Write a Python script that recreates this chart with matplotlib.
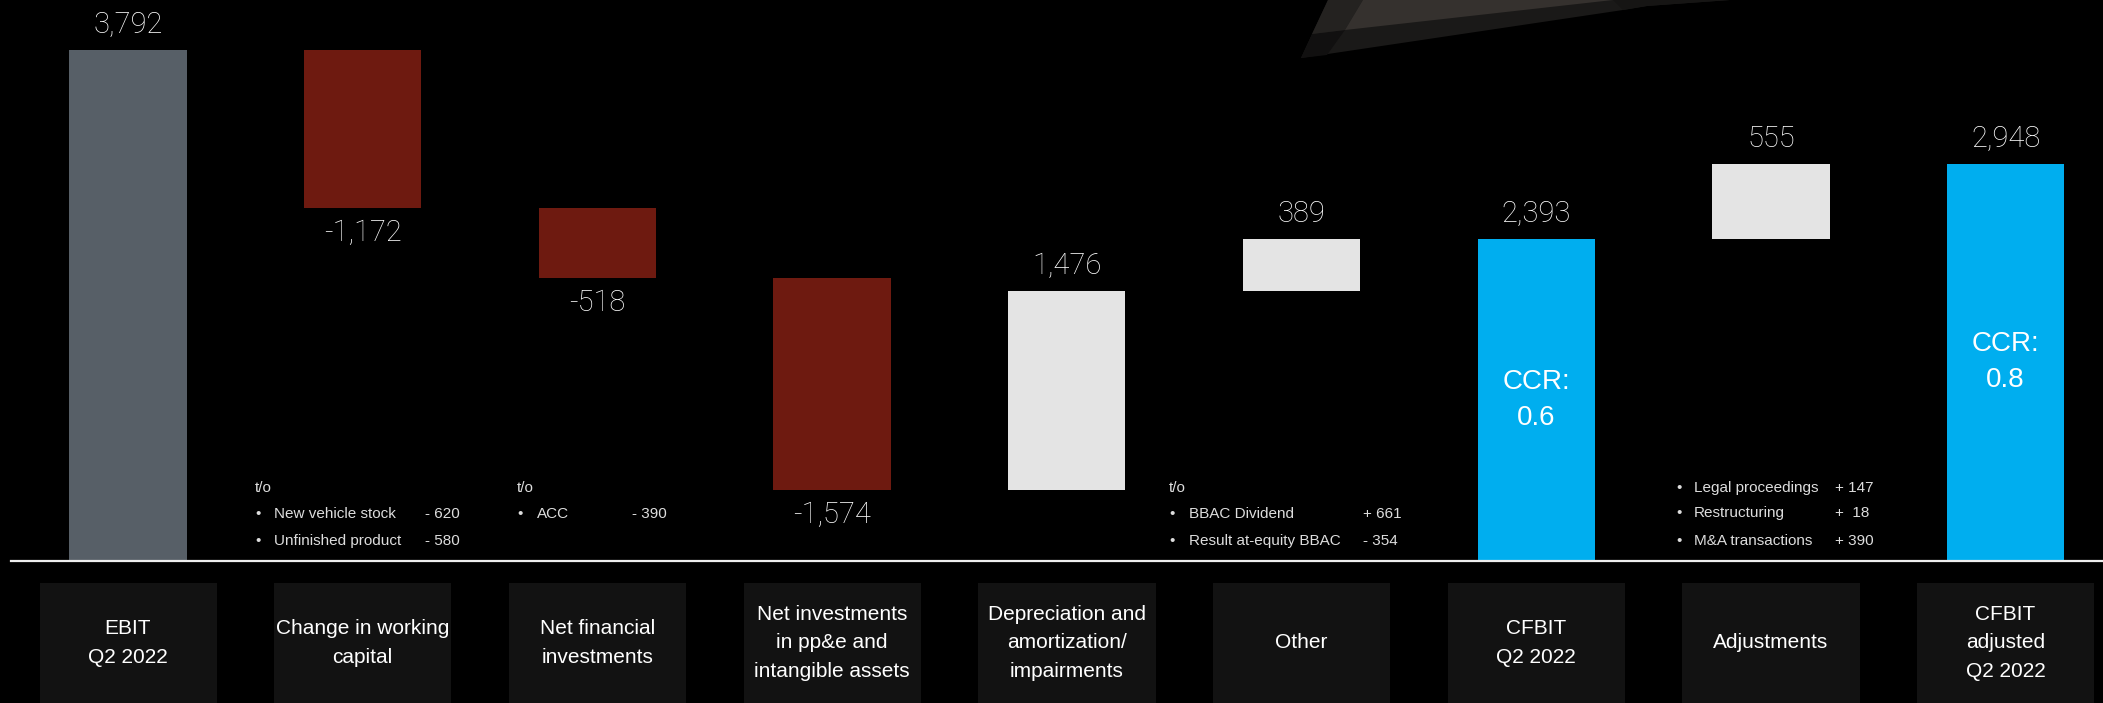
import numpy as np
import matplotlib.pyplot as plt
from matplotlib.patches import Rectangle, Polygon

plt.rcParams['font.family'] = ['Liberation Sans', 'DejaVu Sans']

# ---- data ----
categories = ['EBIT\nQ2 2022', 'Change in working\ncapital', 'Net financial\ninvestments',
              'Net investments\nin pp&e and\nintangible assets',
              'Depreciation and\namortization/\nimpairments', 'Other',
              'CFBIT\nQ2 2022', 'Adjustments', 'CFBIT\nadjusted\nQ2 2022']
values = [3792, -1172, -518, -1574, 1476, 389, 2393, 555, 2948]
is_total = [True, False, False, False, False, False, True, False, True]
ccr_text = {6: 'CCR:\n0.6', 8: 'CCR:\n0.8'}

wc_items = ['New vehicle stock', 'Unfinished product']
wc_vals = ['- 620', '- 580']
fin_items = ['ACC']
fin_vals = ['- 390']
other_items = ['BBAC Dividend', 'Result at-equity BBAC']
other_vals = ['+ 661', '- 354']
adj_items = ['Legal proceedings', 'Restructuring', 'M&A transactions']
adj_vals = ['+ 147', '+  18', '+ 390']

c_ebit = '#575f67'
c_neg = '#6e1a10'
c_pos = '#e4e4e4'
c_total = '#00aeef'

# ---- figure / scale ----
W, H = 2103, 703
fig = plt.figure(figsize=(W / 100, H / 100), dpi=100, facecolor='black')
ax = fig.add_axes([0, 0, 1, 1])
ax.set_facecolor('black')
ax.axis('off')

step = 234.7          # px between bar centres
x0 = 128              # px of first bar centre
base = 561            # px of zero line (from top)
u = 3792 / 511        # value units per px

ax.set_xlim(-x0 / step, (W - x0) / step)
ax.set_ylim(-(H - base) * u, base * u)


def px(x):
    return (x - x0) / step


def py(y):
    return (base - y) * u


# decoration top right (dark glass shape)
for pts, col in [
    ([(1301, 58), (1328, 0), (1730, 0), (1647, 6), (1623, 10)], '#1a1918'),
    ([(1301, 58), (1312, 34), (1345, 30), (1327, 55)], '#111010'),
    ([(1312, 34), (1328, 0), (1363, 0), (1345, 30)], '#242220'),
    ([(1345, 30), (1363, 0), (1613, 0)], '#35312e'),
    ([(1613, 0), (1623, 10), (1647, 6), (1730, 0)], '#161514'),
]:
    ax.add_patch(Polygon([(px(a), py(b)) for a, b in pts], closed=True, color=col, lw=0, zorder=0))

# waterfall bars
running = 0
for i, v in enumerate(values):
    if is_total[i]:
        bottom, height = 0, v
        col = c_ebit if i == 0 else c_total
        running = v
    else:
        bottom, height = running, v
        col = c_neg if v < 0 else c_pos
        running += v
    ax.bar(i, height, bottom=bottom, width=0.5, color=col, zorder=2)
    off = 18 if v >= 0 else -18
    ax.annotate(f'{v:,}', (i, bottom + height), xytext=(0, off), textcoords='offset points',
                ha='center', va='center', color='white', fontsize=21,
                family=['Roboto', 'Liberation Sans'], fontweight='light')
    if i in ccr_text:
        ax.text(i, v / 2, ccr_text[i], ha='center', va='center', color='white',
                fontsize=20, linespacing=1.5, zorder=3)

ax.axhline(0, xmin=11 / W, xmax=1, color='#eeeeee', lw=1.6, zorder=3)

# category boxes
box_top = py(583)
for i, lab in enumerate(categories):
    ax.add_patch(Rectangle((i - 0.377, py(H + 5)), 0.755, box_top - py(H + 5),
                           color='#121212', lw=0, zorder=1))
    ax.text(i, py(643), lab, ha='center', va='center', color='white',
            fontsize=15, linespacing=1.62)


# breakdown notes
def notes(header, items, vals, xb, xt, xv, rows):
    fs = 11
    if header:
        ax.text(px(xb), py(rows[0]), header, color='#dddddd', fontsize=fs, va='center')
        rows = rows[1:]
    for it, vv, r in zip(items, vals, rows):
        ax.text(px(xb), py(r), '\u2022', color='#dddddd', fontsize=fs, va='center')
        ax.text(px(xt), py(r), it, color='#dddddd', fontsize=fs, va='center')
        ax.text(px(xv), py(r), vv, color='#dddddd', fontsize=fs, va='center')


notes('t/o', wc_items, wc_vals, 255, 274, 425, [488, 514, 541])
notes('t/o', fin_items, fin_vals, 517, 537, 632, [488, 514, 541])
notes('t/o', other_items, other_vals, 1169, 1189, 1363, [488, 514, 541])
notes(None, adj_items, adj_vals, 1676, 1694, 1835, [488, 513, 541])

fig.savefig('out.png', dpi=100, facecolor='black')
